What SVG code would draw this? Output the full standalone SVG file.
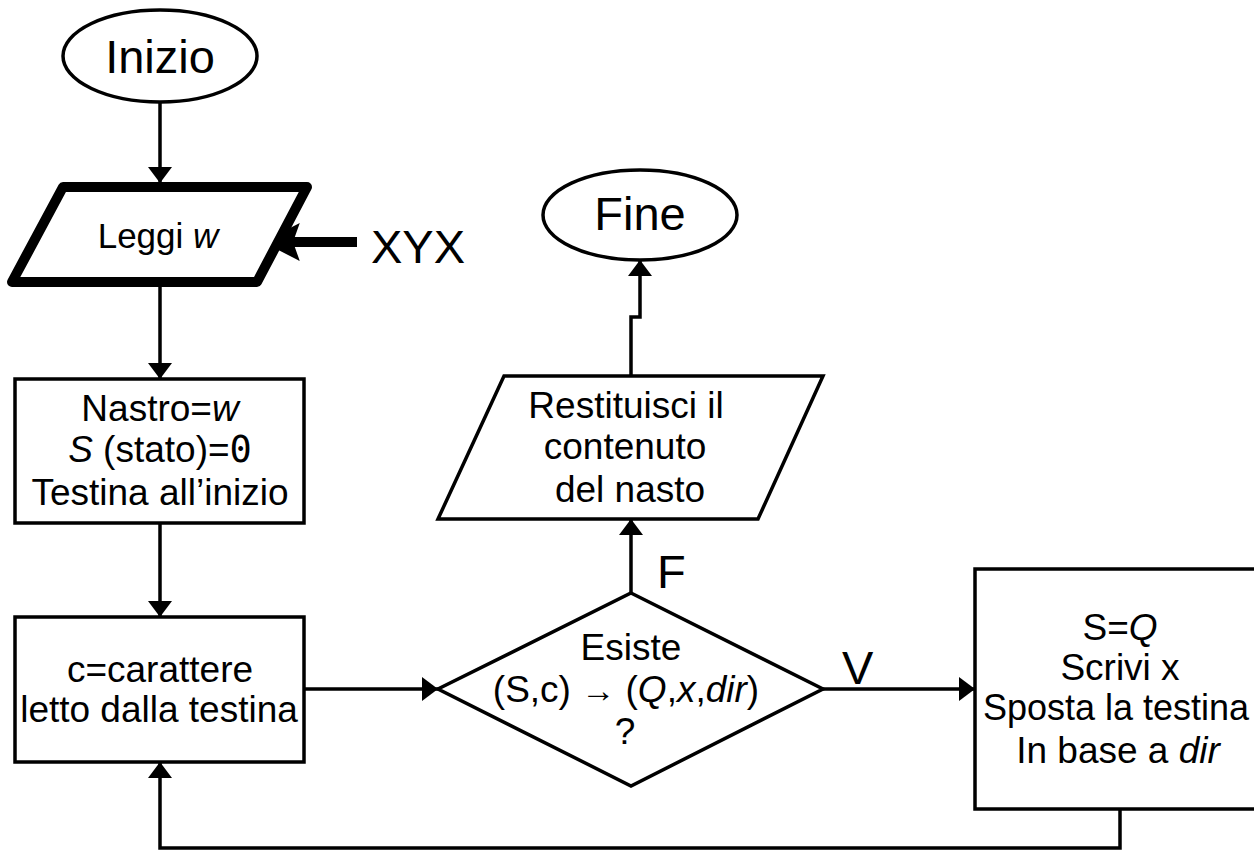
<svg xmlns="http://www.w3.org/2000/svg" width="1254" height="850" viewBox="0 0 1254 850">
  <style>
    .shape { fill: #ffffff; stroke: #000000; stroke-width: 3.5; stroke-linejoin: miter; }
    .thick { fill: #ffffff; stroke: #000000; stroke-width: 10; stroke-linejoin: round; }
    .edge { fill: none; stroke: #000000; stroke-width: 3.5; }
    .lbl { font-family: "Liberation Sans", Arial, sans-serif; fill: #000000; text-anchor: middle; }
    .big { font-size: 47px; }
    .mid { font-size: 37px; }
    .mono { font-family: "DejaVu Sans Mono", monospace; }
  </style>
  <defs>
    <marker id="arrow" viewBox="0 0 16 24" refX="16" refY="12" markerWidth="16" markerHeight="24" markerUnits="userSpaceOnUse" orient="auto">
      <path d="M0,0 L16,12 L0,24 Z" fill="#000000"/>
    </marker>
  </defs>
  <rect width="1254" height="850" fill="#ffffff"/>

  <!-- connectors -->
  <g id="connectors">
    <path class="edge" d="M160,102 L160,183" marker-end="url(#arrow)"/>
    <path class="edge" d="M160,287 L160,379" marker-end="url(#arrow)"/>
    <path class="edge" d="M160,523 L160,617" marker-end="url(#arrow)"/>
    <path class="edge" d="M304,689 L438,689" marker-end="url(#arrow)"/>
    <path class="edge" d="M823,689 L975,689" marker-end="url(#arrow)"/>
    <path class="edge" d="M631,593 L631,519" marker-end="url(#arrow)"/>
    <path class="edge" d="M631,376 L631,317 L640,317 L640,260" marker-end="url(#arrow)"/>
    <path class="edge" d="M1120,809 L1120,848 L160,848 L160,762" marker-end="url(#arrow)"/>
    <!-- thick input arrow feeding the read step -->
    <path d="M357,242 L292,242" fill="none" stroke="#000000" stroke-width="10"/>
    <path d="M265,242 L298,225 L292,242 L298,259 Z" fill="#000000" stroke="#000000" stroke-width="2" stroke-linejoin="miter"/>
    <text class="lbl big" x="657" y="588" style="text-anchor:start">F</text>
    <text class="lbl big" x="842" y="684" style="text-anchor:start">V</text>
    <text class="lbl big" x="371" y="263" style="text-anchor:start">XYX</text>
  </g>

  <g id="inizio">
    <ellipse class="shape" cx="160" cy="56" rx="97" ry="46"/>
    <text class="lbl big" x="160" y="73">Inizio</text>
  </g>

  <g id="leggi">
    <polygon class="thick" points="63,187 307,187 257,282 12,282"/>
    <text class="lbl" font-size="35" x="158" y="248">Leggi <tspan font-style="italic">w</tspan></text>
  </g>

  <g id="init">
    <rect class="shape" x="15" y="379" width="289" height="144"/>
    <text class="lbl mid" x="160" y="421">Nastro=<tspan font-style="italic">w</tspan></text>
    <text class="lbl mid" x="160" y="462"><tspan font-style="italic">S</tspan> (stato)=<tspan class="mono">0</tspan></text>
    <text class="lbl mid" x="160" y="505">Testina all’inizio</text>
  </g>

  <g id="lettura">
    <rect class="shape" x="15" y="617" width="289" height="145"/>
    <text class="lbl mid" x="160" y="682">c=carattere</text>
    <text class="lbl mid" x="159" y="722">letto dalla testina</text>
  </g>

  <g id="decisione">
    <polygon class="shape" points="631,593 823,689 631,786 438,689"/>
    <text class="lbl mid" x="631" y="660">Esiste</text>
    <text class="lbl mid" x="626" y="702">(S,c) <tspan font-size="34">→</tspan> (<tspan font-style="italic">Q</tspan>,<tspan font-style="italic">x</tspan>,<tspan font-style="italic">dir</tspan>)</text>
    <text class="lbl mid" x="625" y="744">?</text>
  </g>

  <g id="output">
    <polygon class="shape" points="504,376 823,376 758,519 438,519"/>
    <text class="lbl mid" x="626" y="418">Restituisci il</text>
    <text class="lbl mid" x="625" y="459">contenuto</text>
    <text class="lbl mid" x="630" y="502">del nasto</text>
  </g>

  <g id="fine">
    <ellipse class="shape" cx="640" cy="215" rx="97" ry="45"/>
    <text class="lbl big" x="640" y="230">Fine</text>
  </g>

  <g id="transizione">
    <rect class="shape" x="975" y="569" width="292" height="240"/>
    <text class="lbl mid" x="1120" y="640">S=<tspan font-style="italic">Q</tspan></text>
    <text class="lbl mid" x="1120" y="680">Scrivi x</text>
    <text class="lbl" font-size="36" x="1116" y="720">Sposta la testina</text>
    <text class="lbl mid" x="1118" y="763">In base a <tspan font-style="italic">dir</tspan></text>
  </g>
</svg>
